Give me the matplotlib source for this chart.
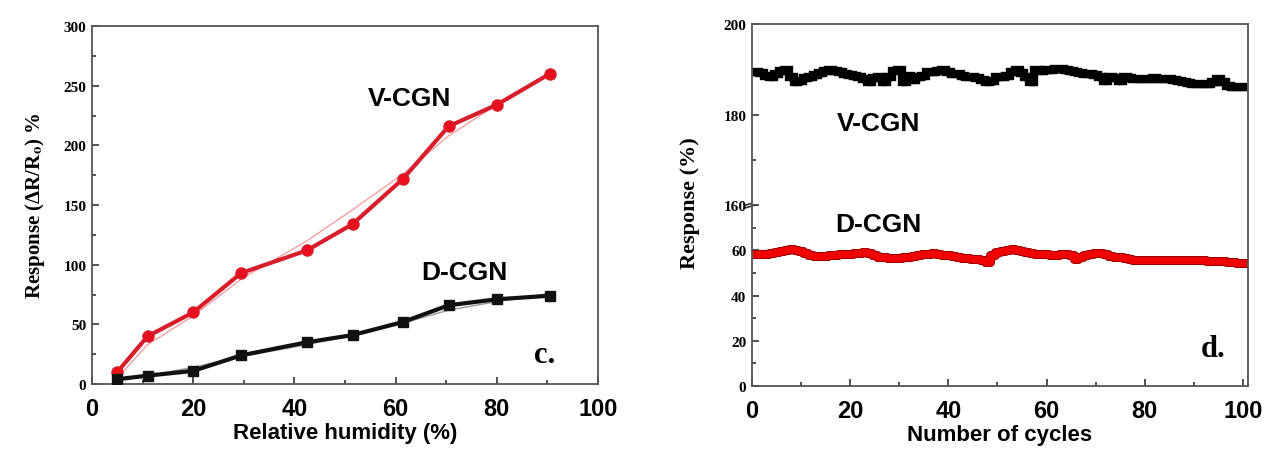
import matplotlib
matplotlib.use("Agg")
import matplotlib.pyplot as plt
from matplotlib.ticker import MultipleLocator

plt.rcParams['mathtext.fontset'] = 'stix'

# humidity response (panel c)
rh = [5, 11, 20, 29.5, 42.5, 51.5, 61.5, 70.5, 80, 90.5]
v_resp = [10, 40, 60, 93, 112, 134, 172, 216, 234, 260]
d_resp = [4, 7, 11, 24, 35, 41, 52, 66, 71, 74]
# thin guide lines drawn under the data
v_fit = [5, 33, 57, 88, 120, 146, 176, 208, 234, 260]
d_fit = [3, 7, 14, 23, 33, 41, 51, 62, 69, 76]

# cycling stability (panel d)
cycles = list(range(101))
v_cyc = [189.4, 189.4, 189.1, 188.6, 188.3, 189.0, 189.6, 189.8, 188.2, 187.1,
         187.5, 188.0, 188.3, 188.8, 189.1, 189.7, 189.8, 189.6, 189.3, 189.0,
         188.7, 188.5, 188.3, 187.9, 187.2, 188.0, 188.3, 187.1, 188.4, 189.6,
         189.8, 187.3, 188.6, 187.7, 188.2, 188.6, 189.3, 189.5, 189.7, 189.8,
         189.4, 189.0, 188.9, 188.6, 188.4, 188.3, 188.0, 187.6, 187.1, 187.5,
         188.2, 188.3, 188.6, 189.3, 189.8, 189.1, 188.2, 187.1, 189.8, 189.7,
         189.8, 189.9, 190.1, 190.1, 189.9, 189.7, 189.4, 189.2, 189.0, 188.9,
         188.7, 188.2, 187.5, 188.2, 188.1, 187.5, 188.3, 188.1, 187.9, 187.9,
         187.9, 187.9, 188.0, 187.9, 187.9, 187.8, 187.6, 187.5, 187.2, 187.0,
         186.8, 186.8, 186.7, 186.8, 187.2, 187.9, 187.3, 186.4, 186.0, 186.0,
         186.1]
d_cyc = [58.3, 58.2, 58.3, 58.5, 58.8, 59.1, 59.5, 60.0, 60.6, 60.2,
         59.6, 58.8, 57.9, 57.6, 57.5, 57.6, 57.8, 58.0, 58.3, 58.4,
         58.5, 58.6, 58.8, 59.1, 58.7, 57.8, 57.2, 56.9, 56.8, 56.6,
         56.8, 56.9, 57.0, 57.6, 58.1, 58.3, 58.5, 58.6, 58.4, 58.0,
         57.7, 57.3, 57.0, 56.8, 56.6, 56.3, 56.1, 55.6, 55.0, 58.0,
         59.4, 59.8, 60.2, 60.6, 60.3, 59.6, 59.2, 58.8, 58.4, 58.3,
         58.2, 58.1, 58.0, 58.2, 58.3, 58.1, 56.1, 57.2, 58.0, 58.4,
         58.7, 58.8, 58.3, 57.6, 57.2, 56.9, 56.5, 56.1, 55.9, 55.8,
         55.7, 55.7, 55.6, 55.7, 55.6, 55.7, 55.7, 55.6, 55.6, 55.6,
         55.6, 55.5, 55.5, 55.4, 55.3, 55.3, 55.2, 55.0, 54.8, 54.5,
         54.2]

sans = 'Liberation Sans'
serif = 'Liberation Serif'
spine_c = '#555555'


def style_axes(ax):
    for s in ax.spines.values():
        s.set_color(spine_c)
        s.set_linewidth(1.3)
    ax.tick_params(which='both', direction='in', top=False, right=False,
                   color='#333333', width=1.2)
    ax.tick_params(which='major', length=5)
    ax.tick_params(which='minor', length=3)
    ax.tick_params(axis='x', labelsize=17, pad=9)
    ax.tick_params(axis='y', labelsize=11, pad=4)
    for lab in ax.get_xticklabels():
        lab.set_fontfamily(sans)
        lab.set_fontweight('bold')
    for lab in ax.get_yticklabels():
        lab.set_fontfamily(serif)
        lab.set_fontweight('bold')


fig = plt.figure(figsize=(12.7, 4.52), dpi=100)

# ---- panel c ----
ax1 = fig.add_axes([0.0724, 0.1482, 0.3984, 0.792])
ax1.plot(rh, v_fit, color='#f3a0a0', lw=1.0, zorder=2)
ax1.plot(rh, d_fit, color='#999999', lw=1.0, zorder=2)
ax1.plot(rh, v_resp, color='#d81e2a', lw=3.0, marker='o', ms=8,
         mfc='#e8101c', mec='#d81e2a', zorder=3)
ax1.plot(rh, d_resp, color='#111111', lw=3.0, marker='s', ms=7,
         mfc='#111111', zorder=3)
ax1.set_xlim(0, 100)
ax1.set_ylim(0, 300)
ax1.xaxis.set_major_locator(MultipleLocator(20))
ax1.xaxis.set_minor_locator(MultipleLocator(10))
ax1.yaxis.set_major_locator(MultipleLocator(50))
ax1.yaxis.set_minor_locator(MultipleLocator(25))
style_axes(ax1)
ax1.set_xlabel('Relative humidity (%)', fontfamily=sans, fontweight='bold',
               fontsize=16, labelpad=2)
ax1.set_ylabel(r'Response (ΔR/R$_\mathbf{o}$) %', fontfamily=serif,
               fontweight='bold', fontsize=15, labelpad=12)
ax1.text(62.8, 240, 'V-CGN', fontfamily=sans, fontweight='bold', fontsize=19,
         ha='center', va='center')
ax1.text(73.7, 94, 'D-CGN', fontfamily=sans, fontweight='bold', fontsize=19,
         ha='center', va='center')
ax1.text(89.5, 25, 'c.', fontfamily=serif, fontweight='bold', fontsize=22,
         ha='center', va='center')

# ---- panel d (broken y axis) ----
ax_lo = fig.add_axes([0.592, 0.1438, 0.3906, 0.4004])
ax_hi = fig.add_axes([0.592, 0.5442, 0.3906, 0.4004], sharex=ax_lo)

ax_hi.plot(cycles, v_cyc, color='#000000', lw=6, marker='s', ms=5,
           drawstyle='steps-mid', solid_joinstyle='miter')
ax_lo.plot(cycles, d_cyc, color='#9a0000', lw=6.5, drawstyle='steps-mid')
ax_lo.plot(cycles, d_cyc, color='#f00000', lw=5, marker='s', ms=3.5,
           mec='#f00000', mfc='#f00000', drawstyle='steps-mid')

ax_lo.set_xlim(0, 101)
ax_lo.set_ylim(0, 80)
ax_hi.set_ylim(160, 200)
ax_lo.xaxis.set_major_locator(MultipleLocator(20))
ax_lo.xaxis.set_minor_locator(MultipleLocator(10))
ax_lo.yaxis.set_major_locator(MultipleLocator(20))
ax_lo.yaxis.set_minor_locator(MultipleLocator(10))
ax_hi.yaxis.set_major_locator(MultipleLocator(20))
ax_hi.yaxis.set_minor_locator(MultipleLocator(10))
ax_lo.set_yticks([0, 20, 40, 60])

ax_lo.spines['top'].set_visible(False)
ax_hi.spines['bottom'].set_visible(False)
style_axes(ax_lo)
style_axes(ax_hi)
ax_hi.tick_params(axis='x', which='both', bottom=False, labelbottom=False)

# break marks on the left spine
kw = dict(transform=ax_lo.transAxes, color='#333333', lw=1.2, clip_on=False)
ax_lo.plot([-0.012, 0.012], [0.985, 1.005], **kw)
ax_lo.plot([-0.012, 0.012], [1.0, 1.02], **kw)

ax_lo.set_xlabel('Number of cycles', fontfamily=sans, fontweight='bold',
                 fontsize=16, labelpad=2)
fig.text(0.543, 0.55, 'Response (%)', rotation=90, fontfamily=serif,
         fontweight='bold', fontsize=16, ha='center', va='center')

ax_hi.text(25.8, 178.2, 'V-CGN', fontfamily=sans, fontweight='bold', fontsize=19,
           ha='center', va='center')
ax_lo.text(25.8, 71.7, 'D-CGN', fontfamily=sans, fontweight='bold', fontsize=19,
           ha='center', va='center')
ax_lo.text(94, 16.4, 'd.', fontfamily=serif, fontweight='bold', fontsize=22,
           ha='center', va='center')

fig.savefig('out.png', dpi=100)
